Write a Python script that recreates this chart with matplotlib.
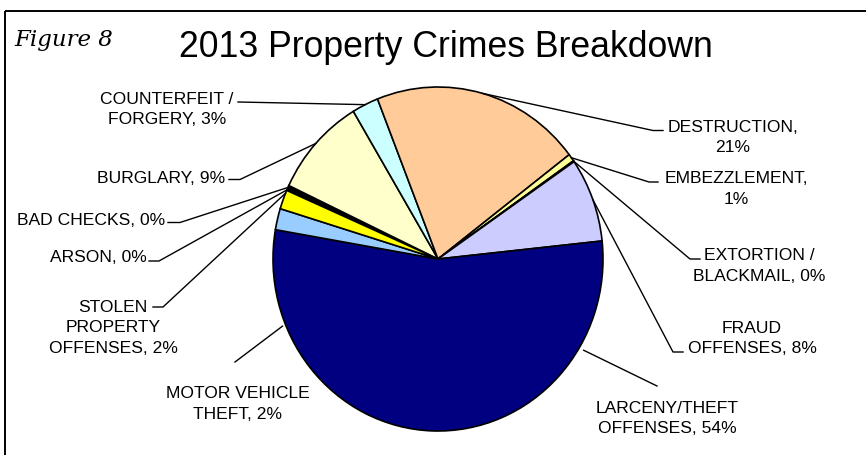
import numpy as np
import matplotlib.pyplot as plt
from matplotlib.patches import Rectangle

# 2013 property crimes, share of total (%)
crimes = ["ARSON", "BAD CHECKS", "BURGLARY", "COUNTERFEIT /\nFORGERY", "DESTRUCTION",
          "EMBEZZLEMENT", "EXTORTION /\nBLACKMAIL", "FRAUD\nOFFENSES",
          "LARCENY/THEFT\nOFFENSES", "MOTOR VEHICLE\nTHEFT", "STOLEN\nPROPERTY\nOFFENSES"]
shares = [0.1, 0.4, 9.4, 2.6, 20.6, 0.7, 0.1, 7.9, 54.4, 2.0, 1.8]
colors = ["#1a1a1a", "#000000", "#FFFFCC", "#CCFFFF", "#FFCC99", "#FFFF99",
          "#800080", "#CCCCFF", "#000080", "#99CCFF", "#FFFF00"]

plt.rcParams['font.family'] = ['Liberation Sans', 'DejaVu Sans']

W, H = 866, 456
fig = plt.figure(figsize=(W / 100, H / 100), dpi=100)

# pie is slightly taller than wide
cx, cy, rx, ry = 438, 260, 165, 172
ax = fig.add_axes([(cx - rx) / W, (H - cy - ry) / H, 2 * rx / W, 2 * ry / H])
wedges, _ = ax.pie(shares, colors=colors, startangle=156.5, counterclock=False,
                   wedgeprops=dict(edgecolor="black", linewidth=1.2))
ax.set_aspect("auto")
ax.set_xlim(-1, 1)
ax.set_ylim(-1, 1)
ax.axis("off")

# overlay in pixel units for labels, leaders and the frame
lay = fig.add_axes([0, 0, 1, 1])
lay.set_xlim(0, W)
lay.set_ylim(H, 0)
lay.axis("off")
lay.patch.set_visible(False)

lay.add_patch(Rectangle((4.5, 12), 900, 500, fill=False, lw=1.4, ec="black"))
lay.text(14, 46, "Figure 8", family="DejaVu Serif", style="italic", fontsize=16.5,
         va="baseline", ha="left")
lay.text(445.5, 57, "2013 Property Crimes Breakdown", fontsize=25.7,
         va="baseline", ha="center")

wrap_pct = {"DESTRUCTION", "EMBEZZLEMENT"}

# text position, alignment, leader points on the label side, optional fixed anchor (angle, r)
layout = {
    "ARSON": ((147, 258), "right", [(149, 262), (159, 262)], None),
    "BAD CHECKS": ((165, 220.5), "right", [(168, 223.5), (180, 223.5)], None),
    "BURGLARY": ((225, 178.5), "right", [(229, 180.5), (240, 180.5)], None),
    "COUNTERFEIT /\nFORGERY": ((167, 109.5), "center", [(238, 103)], None),
    "DESTRUCTION": ((733, 137.5), "center", [(663, 131.5), (653, 131.5)], None),
    "EMBEZZLEMENT": ((736, 189), "center", [(658, 183), (649, 183)], None),
    "EXTORTION /\nBLACKMAIL": ((759, 266), "center", [(700, 260), (690, 260)], None),
    "FRAUD\nOFFENSES": ((752, 338.5), "center", [(683, 353), (673, 353)], None),
    "LARCENY/THEFT\nOFFENSES": ((667, 418.5), "center", [(657, 387)], (-31, 1.03)),
    "MOTOR VEHICLE\nTHEFT": ((237.5, 404), "center", [(235, 363)], (202.5, 1.02)),
    "STOLEN\nPROPERTY\nOFFENSES": ((113, 328), "center", [(153, 308), (163, 308)], (157.5, 1.0)),
}


def to_px(p):
    return lay.transData.inverted().transform(ax.transData.transform(p))


for name, value, w in zip(crimes, shares, wedges):
    (tx, ty), ha, pts, anchor = layout[name]
    sep = ",\n" if name in wrap_pct else ", "
    lay.text(tx, ty, f"{name}{sep}{round(value)}%", fontsize=12.6, ha=ha, va="center",
             multialignment="center", linespacing=1.43)
    if anchor is None:
        ang, r = (w.theta1 + w.theta2) / 2, 1.0
    else:
        ang, r = anchor
    ex, ey = to_px((r * np.cos(np.radians(ang)), r * np.sin(np.radians(ang))))
    xs = [p[0] for p in pts] + [ex]
    ys = [p[1] for p in pts] + [ey]
    lay.plot(xs, ys, color="black", lw=1.0)

fig.savefig("out.png", dpi=100)
